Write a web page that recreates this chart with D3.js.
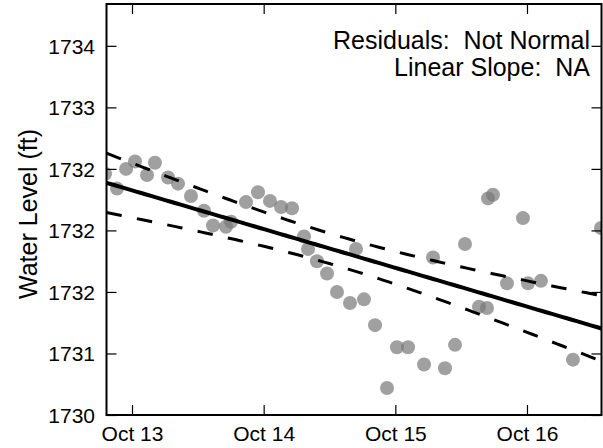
<!DOCTYPE html>
<html><head><meta charset="utf-8">
<script src="https://cdn.jsdelivr.net/npm/d3@7"></script>
<style>body{margin:0;background:#fff} text.ann{white-space:pre}</style>
</head><body><svg id="chart" width="603" height="448"></svg>
<script>
// ---- data ----
const times = [
  "2015-10-12T19:05","2015-10-12T21:16","2015-10-12T22:55","2015-10-13T00:33","2015-10-13T02:44",
  "2015-10-13T04:11","2015-10-13T06:34","2015-10-13T08:23","2015-10-13T10:45","2015-10-13T13:07",
  "2015-10-13T14:46","2015-10-13T17:08","2015-10-13T18:03","2015-10-13T20:47","2015-10-13T22:58",
  "2015-10-14T01:09","2015-10-14T03:10","2015-10-14T05:10","2015-10-14T07:21","2015-10-14T08:05",
  "2015-10-14T09:43","2015-10-14T11:33","2015-10-14T13:22","2015-10-14T15:44","2015-10-14T16:50",
  "2015-10-14T18:17","2015-10-14T20:18","2015-10-14T22:29","2015-10-15T00:18","2015-10-15T02:19",
  "2015-10-15T05:14","2015-10-15T06:52","2015-10-15T09:03","2015-10-15T10:53","2015-10-15T12:42",
  "2015-10-15T15:15","2015-10-15T16:43","2015-10-15T16:54","2015-10-15T17:48","2015-10-15T20:21",
  "2015-10-15T23:16","2015-10-16T00:11","2015-10-16T02:33","2015-10-16T08:23","2015-10-16T13:29"
];
const levels = [
  1732.46,1732.34,1732.50,1732.56,1732.45,
  1732.55,1732.43,1732.38,1732.28,1732.16,
  1732.04,1732.03,1732.07,1732.23,1732.31,
  1732.24,1732.19,1732.18,1731.95,1731.85,
  1731.75,1731.65,1731.50,1731.41,1731.85,
  1731.44,1731.23,1730.72,1731.05,1731.05,
  1730.91,1731.78,1730.88,1731.07,1731.89,
  1731.38,1731.37,1732.26,1732.29,1731.57,
  1732.10,1731.57,1731.59,1730.95,1732.02
];
const xDomain = ["2015-10-12T19:21","2015-10-16T13:35"];
const yDomain = [1730.5, 1733.84];
const xTickDates = ["2015-10-13T00:00","2015-10-14T00:00","2015-10-15T00:00","2015-10-16T00:00"];
const xTickLabels = ["Oct 13","Oct 14","Oct 15","Oct 16"];
const yTickValues = [1730.5,1731.0,1731.5,1732.0,1732.5,1733.0,1733.5];
const yTickLabels = ["1730","1731","1732","1732","1732","1733","1734"];
const annotations = ["Residuals:  Not Normal","Linear Slope:  NA"];
const yLabel = "Water Level (ft)";
const tCrit = 2.017; // two-sided 95%, df = n-2

// ---- layout ----
const L = 106.5, R = 601.5, T = 4, B = 415;
const FONT = "'Liberation Sans', Arial, Helvetica, sans-serif";
const parse = d3.timeParse("%Y-%m-%dT%H:%M");
const data = times.map((t, i) => ({t: parse(t), v: levels[i]}));

const x = d3.scaleTime().domain(xDomain.map(parse)).range([L, R]);
const y = d3.scaleLinear().domain(yDomain).range([B, T]);

const svg = d3.select("#chart");
svg.append("rect").attr("width", 603).attr("height", 448).attr("fill", "#fff");

svg.append("defs").append("clipPath").attr("id", "clip")
  .append("rect").attr("x", L).attr("y", T).attr("width", R - L).attr("height", B - T);

const plot = svg.append("g").attr("clip-path", "url(#clip)");

// points
plot.selectAll("circle").data(data).join("circle")
  .attr("cx", d => x(d.t)).attr("cy", d => y(d.v)).attr("r", 7)
  .attr("fill", "#777").attr("fill-opacity", 0.7);

// linear regression + 95% confidence band computed from the data
const hrs = data.map(d => d.t.getTime() / 3.6e6);
const n = hrs.length;
const mx = d3.mean(hrs), my = d3.mean(levels);
let sxx = 0, sxy = 0;
hrs.forEach((h, i) => { sxx += (h - mx) ** 2; sxy += (h - mx) * (levels[i] - my); });
const slope = sxy / sxx, icpt = my - slope * mx;
let sse = 0;
hrs.forEach((h, i) => { sse += (levels[i] - (icpt + slope * h)) ** 2; });
const s = Math.sqrt(sse / (n - 2));
const d0 = x.domain()[0].getTime(), d1 = x.domain()[1].getTime();
const grid = d3.range(0, 101).map(k => new Date(d0 + (d1 - d0) * k / 100));
const fit = grid.map(g => {
  const h = g.getTime() / 3.6e6;
  const yh = icpt + slope * h;
  const w = tCrit * s * Math.sqrt(1 / n + (h - mx) ** 2 / sxx);
  return {t: g, m: yh, lo: yh - w, hi: yh + w};
});
const line = key => d3.line().x(d => x(d.t)).y(d => y(d[key]));
plot.append("path").datum(fit).attr("d", line("hi")).attr("fill", "none")
  .attr("stroke", "#000").attr("stroke-width", 3).attr("stroke-dasharray", "15.5,15.5");
plot.append("path").datum(fit).attr("d", line("lo")).attr("fill", "none")
  .attr("stroke", "#000").attr("stroke-width", 3).attr("stroke-dasharray", "15.5,15.5");
plot.append("path").datum(fit).attr("d", line("m")).attr("fill", "none")
  .attr("stroke", "#000").attr("stroke-width", 4);

// axes (inward ticks on all four sides)
const tickDates = xTickDates.map(parse);
const gx = svg.append("g").attr("transform", `translate(0,${B})`)
  .call(d3.axisBottom(x).tickValues(tickDates).tickSize(-10).tickPadding(0)
    .tickFormat((d, i) => xTickLabels[i]));
const gxt = svg.append("g").attr("transform", `translate(0,${T})`)
  .call(d3.axisTop(x).tickValues(tickDates).tickSize(-10).tickFormat(""));
const gy = svg.append("g").attr("transform", `translate(${L},0)`)
  .call(d3.axisLeft(y).tickValues(yTickValues).tickSize(-10).tickPadding(0)
    .tickFormat((d, i) => yTickLabels[i]));
const gyr = svg.append("g").attr("transform", `translate(${R},0)`)
  .call(d3.axisRight(y).tickValues(yTickValues).tickSize(-10).tickFormat(""));
[gx, gxt, gy, gyr].forEach(g => {
  g.select(".domain").remove();
  g.selectAll(".tick line").attr("stroke", "#000").attr("stroke-width", 1.2);
});
gx.selectAll(".tick text").attr("y", 26).attr("dy", "0").attr("font-size", 21)
  .attr("font-family", FONT).attr("fill", "#000");
gy.selectAll(".tick text").attr("x", -11.5).attr("dy", "0.35em").attr("font-size", 21)
  .attr("font-family", FONT).attr("fill", "#000");

// frame
svg.append("rect").attr("x", L).attr("y", T).attr("width", R - L).attr("height", B - T)
  .attr("fill", "none").attr("stroke", "#000").attr("stroke-width", 2);

// y label
svg.append("text").attr("transform", `translate(28,${(128 + 300) / 2}) rotate(-90)`)
  .attr("text-anchor", "middle").attr("dy", "0.35em")
  .attr("font-family", FONT).attr("font-size", 25).text(yLabel);

// annotations
svg.selectAll("text.ann").data(annotations).join("text").attr("class", "ann")
  .attr("x", 590).attr("y", (d, i) => 49 + i * 27).attr("text-anchor", "end")
  .attr("xml:space", "preserve")
  .attr("font-family", FONT).attr("font-size", 25).text(d => d);
</script></body></html>
